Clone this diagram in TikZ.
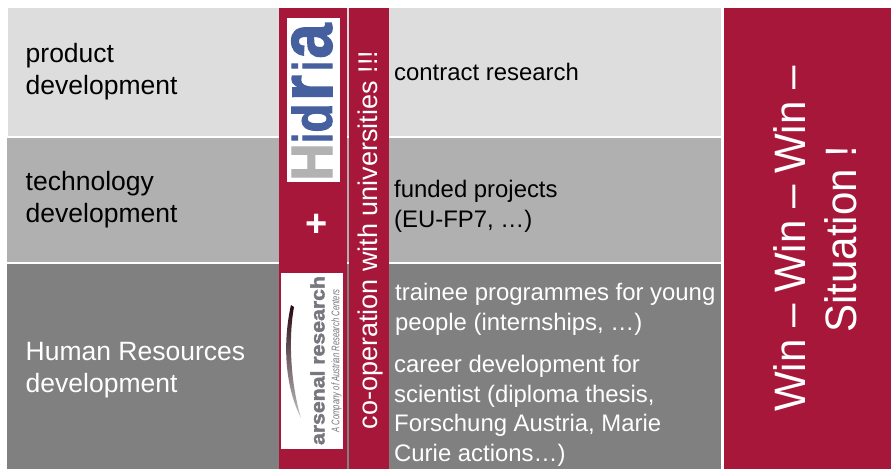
\documentclass[tikz,border=0pt]{standalone}
\usepackage{fontspec}
\setmainfont{Liberation Sans}
\newfontfamily\logofont[BoldFeatures={FakeBold=2}]{Liberation Sans}
\definecolor{wine}{HTML}{A6173A}
\definecolor{rowa}{HTML}{DDDDDD}
\definecolor{rowb}{HTML}{B0B0B0}
\definecolor{rowc}{HTML}{808080}
\definecolor{hblue}{HTML}{46609F}
\definecolor{hgray}{HTML}{B2B2B2}
\definecolor{agray}{HTML}{77777F}
\tikzset{
  lefttext/.style={anchor=west,align=left,inner sep=0pt,font=\fontsize{26.5}{32}\selectfont},
  righttext/.style={anchor=north west,align=left,inner sep=0pt,font=\fontsize{23.9}{29.5}\selectfont},
  logoletter/.style={rotate=90,inner sep=0pt,text=#1,font=\logofont\bfseries},
}
\newcommand{\fitletter}[2]{\resizebox{#1pt}{40pt}{#2}}
\begin{document}
\begin{tikzpicture}[x=1pt,y=-1pt]
\useasboundingbox (0,0) rectangle (891,469);
\fill[white] (0,0) rectangle (891,469);
\fill[rowa] (7.5,8) rectangle (721,136);
\fill[rowb] (7,137.5) rectangle (721,261.5);
\fill[rowc] (7,263.5) rectangle (721,469);
\fill[wine] (279,8) rectangle (346.5,469);
\fill[wine] (348.5,8) rectangle (389,469);
\fill[wine] (724,8) rectangle (891,469);
\node[lefttext,text=black] (pd) at (25.5,72) {product\\development};
\node[lefttext,text=black] (td) at (25.5,200) {technology\\development};
\node[lefttext,text=white] (hr) at (25.5,370) {Human Resources\\development};
\node[righttext] (cr) at (394,63) {contract research};
\node[righttext] (fp) at (394,180) {funded projects\\(EU-FP7, …)};
\node[righttext,text=white] (tp) at (395,283) {trainee programmes for young\\people (internships, …)};
\node[righttext,text=white] (cd) at (394,355) {career development for\\scientist (diploma thesis,\\Forschung Austria, Marie\\Curie actions…)};
\node[rotate=90,text=white,inner sep=0pt,font=\fontsize{27}{28}\selectfont] (co) at (371,240) {co-operation with universities !!!};
\node[rotate=90,text=white,inner sep=0pt,align=center,font=\fontsize{44}{51}\selectfont] (win) at (815,239) {\scalebox{0.955}[1]{Win – Win – Win –}\\\scalebox{0.955}[1]{Situation !}};
% Hidria logo
\fill[white] (287,18) rectangle (340,182);
\node[logoletter=hgray] (lh) at (312,162) {\fitletter{37}{H}};
\node[logoletter=hblue] (li1) at (312,138) {\fitletter{9}{i}};
\node[logoletter=hblue] (ld) at (312,118) {\fitletter{29}{d}};
\node[logoletter=hblue] (lr) at (312,88) {\fitletter{26}{r}};
\node[logoletter=hblue] (li2) at (312,66) {\fitletter{9}{i}};
\node[logoletter=hblue] (la) at (312,41) {\fitletter{35}{a}};
\node[text=white,inner sep=0pt,font=\bfseries\fontsize{38}{38}\selectfont] (plus) at (316.5,225) {+};
% arsenal logo
\fill[white] (281,273) rectangle (343,449);
\shade[top color=black!75!wine,bottom color=black!25] (291,305) .. controls (283,340) and (284,385) .. (301,418) .. controls (291,385) and (288,340) .. (294,307) -- cycle;
\node[rotate=90,text=agray,inner sep=0pt,font=\logofont\bfseries] (ars) at (317.5,360.5) {\resizebox{169pt}{14pt}{arsenal research}};
\node[rotate=90,text=agray,inner sep=0pt,font=\itshape] (arsb) at (336.5,361) {\resizebox{143pt}{8pt}{A Company of Austrian Research Centers}};
\end{tikzpicture}
\end{document}
